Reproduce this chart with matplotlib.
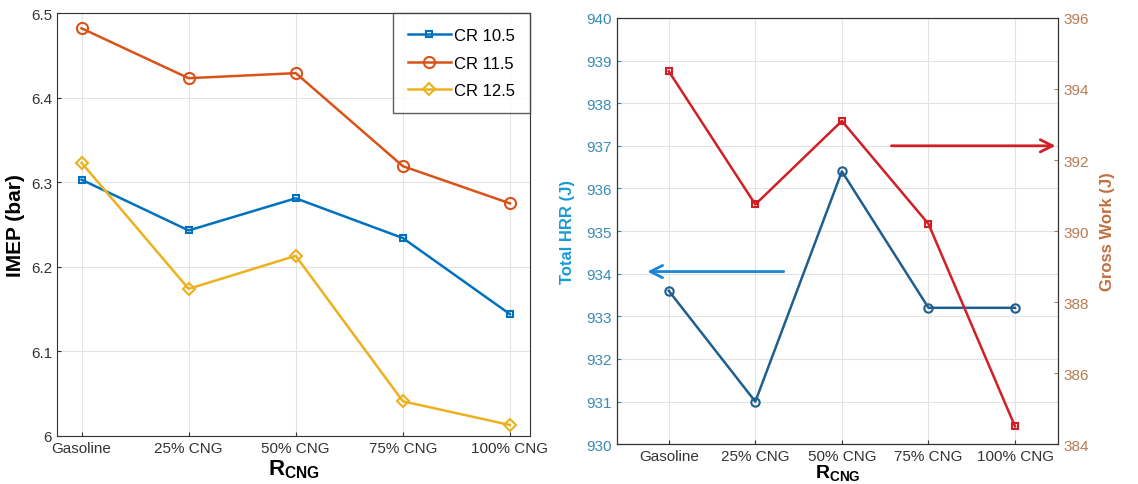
import matplotlib
matplotlib.use('Agg')
import matplotlib.pyplot as plt

plt.rcParams['font.family'] = ['Liberation Sans', 'DejaVu Sans']
plt.rcParams['mathtext.fontset'] = 'custom'
plt.rcParams['mathtext.bf'] = 'Liberation Sans:bold'
plt.rcParams['mathtext.rm'] = 'Liberation Sans'

categories = ['Gasoline', '25% CNG', '50% CNG', '75% CNG', '100% CNG']
cr_labels = ['CR 10.5', 'CR 11.5', 'CR 12.5']
imep_cr105 = [6.303, 6.243, 6.281, 6.234, 6.144]
imep_cr115 = [6.482, 6.423, 6.429, 6.319, 6.275]
imep_cr125 = [6.323, 6.174, 6.213, 6.041, 6.013]
total_hrr = [933.6, 931.0, 936.4, 933.2, 933.2]
gross_work = [394.5, 390.75, 393.1, 390.2, 384.5]

x = list(range(1, len(categories) + 1))

fig = plt.figure(figsize=(11.38, 4.85), dpi=100)

# left panel: IMEP
ax1 = fig.add_axes([0.050, 0.099, 0.416, 0.872])
styles = [('#0072BD', 's', 5), ('#D95319', 'o', 8), ('#EDB120', 'D', 6)]
for vals, lab, (c, m, ms) in zip([imep_cr105, imep_cr115, imep_cr125], cr_labels, styles):
    ax1.plot(x, vals, color=c, marker=m, markersize=ms, markerfacecolor='none',
             markeredgewidth=1.5, linewidth=1.8, label=lab)
ax1.set_xlim(0.77, 5.19)
ax1.set_ylim(6.0, 6.5)
ax1.set_yticks([6.0, 6.1, 6.2, 6.3, 6.4, 6.5])
ax1.set_yticklabels(['6', '6.1', '6.2', '6.3', '6.4', '6.5'])
ax1.set_xticks(x)
ax1.set_xticklabels(categories)
ax1.grid(True, color='#e3e3e3', linewidth=0.8)
ax1.tick_params(labelsize=11, colors='#333333', length=3, direction='in')
ax1.set_ylabel('IMEP (bar)', fontsize=15, fontweight='bold', labelpad=4)
ax1.set_xlabel(r'$\mathbf{R}_{\mathbf{CNG}}$', fontsize=16, labelpad=2)
for s in ax1.spines.values():
    s.set_color('#333333')
leg = ax1.legend(loc='upper right', fontsize=12, frameon=True, fancybox=False,
                 edgecolor='#333333', borderaxespad=0, handlelength=2.6,
                 handletextpad=0.2, borderpad=0.9, labelspacing=0.75)
leg.get_frame().set_linewidth(1.0)

# right panel: HRR and gross work
ax2 = fig.add_axes([0.542, 0.082, 0.388, 0.879])
ax2.plot(x, total_hrr, color='#1f5f8f', marker='o', markersize=6,
         markerfacecolor='none', markeredgewidth=1.5, linewidth=1.8)
ax2.set_xlim(0.4, 5.5)
ax2.set_ylim(930, 940)
ax2.set_yticks(range(930, 941))
ax2.set_xticks(x)
ax2.set_xticklabels(categories)
ax2.grid(True, color='#e3e3e3', linewidth=0.8)
ax2.tick_params(axis='x', labelsize=11, colors='#333333', length=3, direction='in')
ax2.tick_params(axis='y', labelsize=11, colors='#3a8ab5', length=3, direction='in')
ax2.set_ylabel('Total HRR (J)', fontsize=12, fontweight='bold', color='#1a9ad6', labelpad=8)
ax2.set_xlabel(r'$\mathbf{R}_{\mathbf{CNG}}$', fontsize=14, labelpad=0)

ax3 = ax2.twinx()
ax3.plot(x, gross_work, color='#d11f26', marker='s', markersize=5,
         markerfacecolor='none', markeredgewidth=1.5, linewidth=1.8)
ax3.set_ylim(384, 396)
ax3.set_yticks(range(384, 397, 2))
ax3.tick_params(axis='y', labelsize=11, colors='#b87a52', length=3, direction='in')
ax3.set_ylabel('Gross Work (J)', fontsize=12, fontweight='bold', color='#c0703f', labelpad=8)
for s in ax3.spines.values():
    s.set_color('#333333')

ax2.annotate('', xy=(0.72, 934.05), xytext=(2.36, 934.05),
             arrowprops=dict(arrowstyle='->', color='#1a86d6', lw=2,
                             mutation_scale=22))
ax3.annotate('', xy=(5.5, 392.4), xytext=(3.54, 392.4),
             arrowprops=dict(arrowstyle='->', color='#d11f26', lw=2,
                             mutation_scale=22))

fig.savefig('out.png', dpi=100)
